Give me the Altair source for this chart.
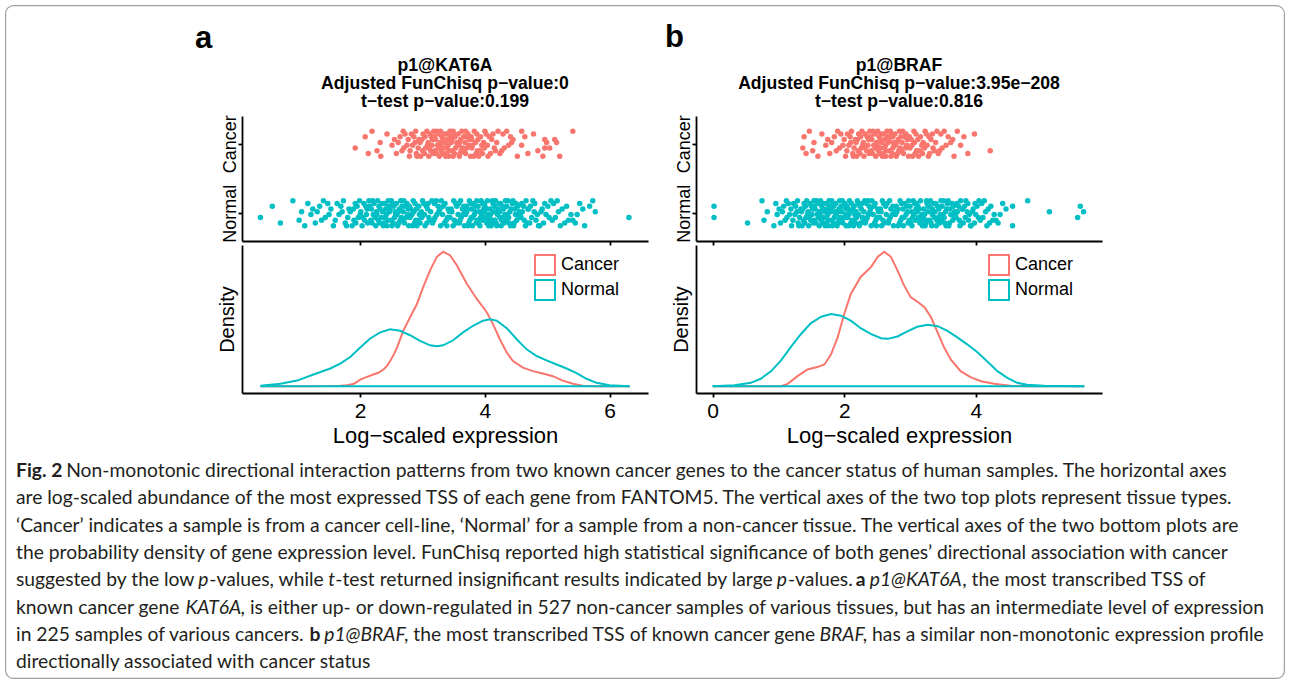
import altair as alt
import pandas as pd

# ------------------------------------------------------------------ data
STATUS = ["Cancer", "Normal"]
STATUS_COLORS = ["#F8766D", "#00BFC4"]

panel_letters = ["a", "b"]
titles_a = ["p1@KAT6A", "Adjusted FunChisq p\u2212value:0", "t\u2212test p\u2212value:0.199"]
titles_b = ["p1@BRAF", "Adjusted FunChisq p\u2212value:3.95e\u2212208", "t\u2212test p\u2212value:0.816"]
x_axis_title = "Log\u2212scaled expression"
density_axis_title = "Density"
x_ticks_a = [2, 4, 6]
x_ticks_b = [0, 2, 4]

# expression values read from the jittered strips (log-scaled)
a_cancer_expr = [
    1.92, 2.08, 2.13, 2.19, 2.27, 2.32, 2.33, 2.43, 2.51, 2.55, 2.58,
    2.61, 2.64, 2.67, 2.69, 2.70, 2.72, 2.75, 2.77, 2.79,
    2.80, 2.82, 2.84, 2.86, 2.88, 2.89, 2.90, 2.91, 2.93, 2.94, 2.96, 2.97, 2.99,
    3.00, 3.01, 3.03, 3.04, 3.05, 3.07, 3.08, 3.09,
    3.10, 3.11, 3.12, 3.13, 3.14, 3.15, 3.16, 3.17, 3.18, 3.19,
    3.20, 3.21, 3.22, 3.23, 3.24, 3.25, 3.26, 3.27, 3.28, 3.29, 3.29,
    3.30, 3.31, 3.32, 3.33, 3.34, 3.35, 3.36, 3.37, 3.38, 3.39, 3.39,
    3.40, 3.41, 3.42, 3.43, 3.44, 3.45, 3.46, 3.47, 3.48, 3.49, 3.49,
    3.50, 3.51, 3.52, 3.53, 3.55, 3.56, 3.57, 3.58, 3.59, 3.59,
    3.60, 3.61, 3.62, 3.63, 3.64, 3.66, 3.67, 3.68, 3.69, 3.69,
    3.70, 3.71, 3.73, 3.74, 3.75, 3.77, 3.78, 3.79, 3.79,
    3.80, 3.82, 3.83, 3.85, 3.86, 3.87, 3.88, 3.89,
    3.90, 3.92, 3.93, 3.95, 3.96, 3.98, 3.99,
    4.00, 4.02, 4.04, 4.05, 4.07, 4.09,
    4.11, 4.13, 4.15, 4.17, 4.19,
    4.21, 4.24, 4.27, 4.29, 4.31, 4.35, 4.38, 4.41, 4.43, 4.45,
    4.52, 4.59, 4.59, 4.64, 4.69, 4.78, 4.85, 4.93, 4.96, 4.96, 4.99,
    5.04, 5.12, 5.15, 5.20, 5.41,
]
a_normal_expr = [
    0.40, 0.59, 0.72, 0.92, 1.02, 1.06, 1.11, 1.16, 1.21, 1.24, 1.28,
    1.31, 1.35, 1.38, 1.41, 1.44, 1.48, 1.50, 1.53, 1.57,
    1.60, 1.63, 1.66, 1.69, 1.71, 1.73, 1.76, 1.78,
    1.80, 1.82, 1.84, 1.87, 1.89, 1.90, 1.92, 1.93, 1.95, 1.97, 1.99,
    2.00, 2.01, 2.03, 2.04, 2.06, 2.07, 2.09,
    2.10, 2.11, 2.12, 2.14, 2.15, 2.17, 2.18, 2.19,
    2.20, 2.21, 2.22, 2.24, 2.25, 2.26, 2.27, 2.28, 2.29,
    2.30, 2.31, 2.32, 2.34, 2.35, 2.36, 2.37, 2.38, 2.39,
    2.40, 2.41, 2.42, 2.43, 2.44, 2.45, 2.46, 2.47, 2.48, 2.49,
    2.50, 2.51, 2.52, 2.53, 2.54, 2.55, 2.56, 2.57, 2.58, 2.59,
    2.60, 2.61, 2.62, 2.63, 2.64, 2.65, 2.66, 2.67, 2.68, 2.69,
    2.70, 2.71, 2.72, 2.74, 2.75, 2.76, 2.77, 2.78, 2.79,
    2.80, 2.81, 2.83, 2.84, 2.85, 2.86, 2.87, 2.88, 2.89,
    2.90, 2.91, 2.93, 2.94, 2.95, 2.96, 2.98, 2.99,
    3.00, 3.02, 3.03, 3.04, 3.06, 3.07, 3.08, 3.09,
    3.10, 3.12, 3.13, 3.15, 3.16, 3.18, 3.19,
    3.20, 3.22, 3.23, 3.25, 3.26, 3.28, 3.29,
    3.30, 3.32, 3.33, 3.35, 3.36, 3.38, 3.39,
    3.40, 3.41, 3.43, 3.44, 3.46, 3.47, 3.49,
    3.50, 3.51, 3.53, 3.54, 3.55, 3.57, 3.58, 3.59,
    3.60, 3.61, 3.62, 3.64, 3.65, 3.66, 3.67, 3.68, 3.69,
    3.70, 3.71, 3.72, 3.73, 3.74, 3.75, 3.76, 3.77, 3.78, 3.79,
    3.80, 3.81, 3.82, 3.83, 3.84, 3.85, 3.86, 3.87, 3.88, 3.89,
    3.90, 3.91, 3.92, 3.93, 3.94, 3.95, 3.96, 3.97, 3.98, 3.99, 3.99,
    4.00, 4.01, 4.02, 4.03, 4.04, 4.05, 4.05, 4.06, 4.07, 4.08, 4.09,
    4.10, 4.11, 4.12, 4.13, 4.13, 4.14, 4.15, 4.16, 4.16, 4.17, 4.18, 4.19,
    4.20, 4.21, 4.22, 4.23, 4.24, 4.24, 4.25, 4.26, 4.27, 4.28, 4.29,
    4.30, 4.31, 4.32, 4.33, 4.34, 4.35, 4.36, 4.37, 4.38, 4.39,
    4.40, 4.41, 4.42, 4.44, 4.45, 4.46, 4.47, 4.48, 4.49,
    4.50, 4.51, 4.53, 4.54, 4.55, 4.57, 4.58, 4.59,
    4.60, 4.62, 4.63, 4.65, 4.66, 4.68, 4.69,
    4.70, 4.72, 4.73, 4.75, 4.77, 4.79,
    4.80, 4.82, 4.84, 4.86, 4.88, 4.90, 4.92, 4.94, 4.96, 4.98,
    5.01, 5.03, 5.06, 5.08, 5.10, 5.13, 5.16, 5.18,
    5.21, 5.24, 5.28, 5.31, 5.34, 5.38, 5.41, 5.45, 5.48,
    5.52, 5.57, 5.60, 5.68, 5.73, 5.77, 6.31,
]
b_cancer_expr = [
    1.37, 1.39, 1.42, 1.47, 1.52, 1.54, 1.60, 1.66, 1.72, 1.75, 1.78,
    1.81, 1.85, 1.88, 1.90, 1.93, 1.95, 1.98,
    2.00, 2.02, 2.04, 2.05, 2.07, 2.09,
    2.10, 2.11, 2.13, 2.14, 2.15, 2.17, 2.18, 2.19,
    2.20, 2.21, 2.22, 2.24, 2.25, 2.26, 2.27, 2.28, 2.29,
    2.30, 2.31, 2.32, 2.34, 2.35, 2.36, 2.37, 2.38, 2.39,
    2.40, 2.41, 2.42, 2.43, 2.44, 2.45, 2.46, 2.47, 2.48, 2.49,
    2.50, 2.51, 2.52, 2.53, 2.54, 2.55, 2.55, 2.56, 2.57, 2.58, 2.59,
    2.60, 2.61, 2.62, 2.63, 2.63, 2.64, 2.65, 2.66, 2.67, 2.68, 2.69,
    2.70, 2.71, 2.72, 2.73, 2.74, 2.74, 2.75, 2.76, 2.77, 2.78, 2.79,
    2.80, 2.81, 2.82, 2.83, 2.84, 2.85, 2.86, 2.87, 2.88, 2.89,
    2.90, 2.91, 2.93, 2.94, 2.95, 2.96, 2.98, 2.99,
    3.00, 3.02, 3.03, 3.04, 3.06, 3.07, 3.08, 3.09,
    3.10, 3.12, 3.13, 3.15, 3.16, 3.18, 3.19,
    3.20, 3.22, 3.23, 3.25, 3.26, 3.28, 3.29,
    3.30, 3.32, 3.34, 3.35, 3.37, 3.39,
    3.41, 3.43, 3.45, 3.47, 3.49, 3.52, 3.55, 3.58,
    3.62, 3.65, 3.67, 3.72, 3.77, 3.82, 3.88, 3.98, 4.22,
]
b_normal_expr = [
    0.02, 0.02, 0.53, 0.75, 0.78, 0.83, 0.93, 0.96, 0.98,
    1.01, 1.03, 1.06, 1.08, 1.10, 1.12, 1.13, 1.15, 1.17, 1.19,
    1.20, 1.22, 1.23, 1.25, 1.26, 1.28, 1.29,
    1.30, 1.31, 1.32, 1.34, 1.35, 1.36, 1.37, 1.38, 1.39,
    1.40, 1.41, 1.42, 1.43, 1.44, 1.45, 1.46, 1.47, 1.48, 1.49,
    1.50, 1.51, 1.52, 1.53, 1.54, 1.54, 1.55, 1.56, 1.57, 1.58, 1.59,
    1.60, 1.61, 1.62, 1.62, 1.63, 1.64, 1.65, 1.66, 1.67, 1.67, 1.68, 1.69,
    1.70, 1.71, 1.72, 1.73, 1.73, 1.74, 1.75, 1.76, 1.76, 1.77, 1.78, 1.79,
    1.80, 1.81, 1.81, 1.82, 1.83, 1.84, 1.84, 1.85, 1.86, 1.87, 1.87, 1.88, 1.89,
    1.90, 1.91, 1.92, 1.92, 1.93, 1.94, 1.95, 1.96, 1.96, 1.97, 1.98, 1.99,
    2.00, 2.01, 2.02, 2.03, 2.03, 2.04, 2.05, 2.06, 2.07, 2.07, 2.08, 2.09,
    2.10, 2.11, 2.12, 2.13, 2.14, 2.15, 2.15, 2.16, 2.17, 2.18, 2.19,
    2.20, 2.21, 2.22, 2.23, 2.24, 2.25, 2.26, 2.27, 2.28, 2.29,
    2.30, 2.31, 2.32, 2.33, 2.34, 2.35, 2.36, 2.37, 2.38, 2.39,
    2.40, 2.41, 2.42, 2.44, 2.45, 2.46, 2.47, 2.48, 2.49,
    2.50, 2.51, 2.52, 2.54, 2.55, 2.56, 2.57, 2.58, 2.59,
    2.60, 2.61, 2.63, 2.64, 2.65, 2.67, 2.68, 2.69,
    2.70, 2.71, 2.73, 2.74, 2.75, 2.77, 2.78, 2.79,
    2.80, 2.81, 2.82, 2.84, 2.85, 2.86, 2.87, 2.88, 2.89,
    2.90, 2.91, 2.92, 2.94, 2.95, 2.96, 2.97, 2.98, 2.99,
    3.00, 3.01, 3.02, 3.03, 3.04, 3.05, 3.06, 3.07, 3.08, 3.09,
    3.10, 3.11, 3.12, 3.13, 3.14, 3.15, 3.16, 3.17, 3.18, 3.19,
    3.20, 3.21, 3.22, 3.23, 3.24, 3.25, 3.25, 3.26, 3.27, 3.28, 3.29,
    3.30, 3.31, 3.32, 3.33, 3.34, 3.34, 3.35, 3.36, 3.37, 3.38, 3.39,
    3.40, 3.41, 3.42, 3.43, 3.44, 3.45, 3.46, 3.47, 3.48, 3.49,
    3.50, 3.51, 3.52, 3.53, 3.54, 3.55, 3.56, 3.57, 3.58, 3.59,
    3.60, 3.61, 3.62, 3.64, 3.65, 3.66, 3.67, 3.68, 3.69,
    3.70, 3.71, 3.72, 3.74, 3.75, 3.76, 3.77, 3.78, 3.79,
    3.80, 3.81, 3.83, 3.84, 3.85, 3.87, 3.88, 3.89,
    3.90, 3.92, 3.93, 3.95, 3.96, 3.98, 3.99,
    4.00, 4.02, 4.04, 4.05, 4.07, 4.09,
    4.11, 4.13, 4.15, 4.17, 4.19, 4.21, 4.23, 4.26, 4.28,
    4.31, 4.34, 4.37, 4.41, 4.46, 4.56, 4.56, 4.79, 5.12, 5.55, 5.59, 5.64,
]
# vertical jitter of the strip points, one digit per sample (0 = bottom, 9 = top)
jitter_digits = (
    "3719250846157293846028475910365062817394503827461972619483054927163850"
    "1836402975629081735484051629372591738460736409518260274153984071683259"
    "1283947560947182036536509281748129364705475601928360384751927150394826"
    "8573619240364019285772910465835802736149274931506890164827354385720916"
    "6173958240056184739283950617242148607953750239481639617502846824195037"
    "1057382649473950618292608154375916274083048263719537192508461572938460"
)

# density curves
a_dens_cancer_x = [0.40, 1.20, 1.50, 1.68, 1.79, 1.90, 2.00, 2.10, 2.21, 2.30, 2.37, 2.43, 2.48, 2.54,
                   2.59, 2.69, 2.80, 2.91, 3.01, 3.12, 3.23, 3.33, 3.44, 3.55, 3.71, 3.87, 4.03, 4.13,
                   4.24, 4.35, 4.45, 4.61, 4.77, 4.93, 5.09, 5.25, 5.41, 5.57, 5.79, 6.32]
a_dens_cancer_y = [0.000, 0.000, 0.001, 0.003, 0.005, 0.012, 0.033, 0.045, 0.058, 0.068, 0.083, 0.100,
                   0.125, 0.158, 0.192, 0.275, 0.342, 0.408, 0.492, 0.575, 0.642, 0.667, 0.650, 0.600,
                   0.508, 0.433, 0.367, 0.308, 0.233, 0.167, 0.125, 0.092, 0.075, 0.063, 0.050, 0.028,
                   0.012, 0.003, 0.000, 0.000]
a_dens_normal_x = [0.40, 0.72, 0.99, 1.25, 1.52, 1.68, 1.84, 2.00, 2.16, 2.32, 2.48, 2.64, 2.80, 2.96,
                   3.12, 3.23, 3.33, 3.49, 3.65, 3.81, 3.97, 4.08, 4.19, 4.35, 4.51, 4.67, 4.83, 4.99,
                   5.15, 5.31, 5.47, 5.63, 5.79, 6.00, 6.32]
a_dens_normal_y = [0.003, 0.012, 0.028, 0.058, 0.088, 0.112, 0.145, 0.192, 0.237, 0.267, 0.282, 0.275,
                   0.253, 0.225, 0.203, 0.198, 0.203, 0.228, 0.267, 0.300, 0.325, 0.332, 0.325, 0.288,
                   0.233, 0.183, 0.150, 0.128, 0.108, 0.088, 0.065, 0.037, 0.017, 0.005, 0.000]
b_dens_cancer_x = [0.00, 1.04, 1.14, 1.29, 1.44, 1.59, 1.70, 1.80, 1.90, 2.00, 2.10, 2.25, 2.41, 2.51,
                   2.61, 2.71, 2.81, 2.91, 3.01, 3.11, 3.22, 3.32, 3.42, 3.52, 3.62, 3.77, 3.92, 4.08,
                   4.28, 4.53, 4.78, 5.65]
b_dens_cancer_y = [0.000, 0.000, 0.012, 0.050, 0.083, 0.095, 0.108, 0.158, 0.242, 0.358, 0.458, 0.542,
                   0.592, 0.642, 0.667, 0.642, 0.575, 0.500, 0.442, 0.420, 0.392, 0.342, 0.267, 0.192,
                   0.133, 0.075, 0.045, 0.025, 0.012, 0.003, 0.000, 0.000]
b_dens_normal_x = [0.00, 0.33, 0.58, 0.73, 0.89, 1.04, 1.19, 1.34, 1.49, 1.65, 1.80, 1.95, 2.10, 2.25,
                   2.41, 2.56, 2.66, 2.81, 2.96, 3.11, 3.27, 3.42, 3.57, 3.72, 3.87, 4.03, 4.18, 4.33,
                   4.48, 4.63, 4.78, 5.04, 5.65]
b_dens_normal_y = [0.000, 0.005, 0.017, 0.037, 0.075, 0.128, 0.195, 0.258, 0.312, 0.345, 0.358, 0.350,
                   0.325, 0.288, 0.258, 0.238, 0.235, 0.247, 0.272, 0.295, 0.305, 0.298, 0.275, 0.242,
                   0.208, 0.167, 0.122, 0.075, 0.042, 0.017, 0.007, 0.002, 0.000]

# figure caption: (text, style) with n = regular, b = bold, i = italic
caption_lines = [
    [("Fig. 2", "b"), ("Non-monotonic directional interaction patterns from two known cancer genes to the cancer status of human samples. The horizontal axes", "n")],
    [("are log-scaled abundance of the most expressed TSS of each gene from FANTOM5. The vertical axes of the two top plots represent tissue types.", "n")],
    [("\u2018Cancer\u2019 indicates a sample is from a cancer cell-line, \u2018Normal\u2019 for a sample from a non-cancer tissue. The vertical axes of the two bottom plots are", "n")],
    [("the probability density of gene expression level. FunChisq reported high statistical significance of both genes\u2019 directional association with cancer", "n")],
    [("suggested by the low", "n"), ("p", "i"), ("-values, while", "n"), ("t", "i"),
     ("-test returned insignificant results indicated by large", "n"), ("p", "i"), ("-values.", "n"),
     ("a", "b"), ("p1@KAT6A", "i"), (", the most transcribed TSS of", "n")],
    [("known cancer gene", "n"), ("KAT6A", "i"),
     (", is either up- or down-regulated in 527 non-cancer samples of various tissues, but has an intermediate level of expression", "n")],
    [("in 225 samples of various cancers.", "n"), ("b", "b"), ("p1@BRAF", "i"),
     (", the most transcribed TSS of known cancer gene", "n"), ("BRAF", "i"),
     (", has a similar non-monotonic expression profile", "n")],
    [("directionally associated with cancer status", "n")],
]

# ------------------------------------------------------------------ layout constants
FONT = "Liberation Sans"
CAP_FONT = "Lato"
CAP_SIZE = 19.3
PLOT_W, STRIP_H, DENS_H, GAP = 406, 125, 148, 4
ORIGIN_X, ORIGIN_Y = 242.0, 116.0               # absolute corner of panel a strip
CAP_Y0 = ORIGIN_Y + STRIP_H + GAP + DENS_H + GAP  # absolute top of caption cell

# segment start positions (absolute pixels) for every caption line
caption_x = [
    [16, 66.2],
    [16],
    [16],
    [16],
    [16, 198.2, 209.3, 328.2, 335.3, 776.8, 787.9, 855.7, 869.7, 962.3],
    [16, 185.4, 240.6],
    [16, 309.4, 324.2, 404.0, 819.5, 862.8],
    [16],
]
caption_y = [471 + 27.3 * i for i in range(8)]
letter_pos = [(195, 48), (665, 47)]  # absolute (left, baseline) of the panel letters

color_scale = alt.Scale(domain=STATUS, range=STATUS_COLORS)


def strip_chart(cancer, normal, xdom, xticks, title_lines):
    rows = []
    for status, base, vals in (("Cancer", 2, cancer), ("Normal", 1, normal)):
        for v, d in zip(vals, jitter_digits):
            rows.append({"expr": v, "status": status,
                         "ypos": base + (int(d) - 4.5) / 4.5 * 0.18})
    df = pd.DataFrame(rows)
    pts = alt.Chart(df).mark_circle(size=30, opacity=1).encode(
        x=alt.X("expr:Q", scale=alt.Scale(domain=xdom, nice=False, zero=False),
                axis=alt.Axis(values=xticks, labels=False, title=None, tickSize=4, grid=False)),
        y=alt.Y("ypos:Q", scale=alt.Scale(domain=[0.6, 2.4], nice=False, zero=False),
                axis=alt.Axis(values=[1, 2], labelExpr="datum.value == 2 ? 'Cancer' : 'Normal'",
                              labelAngle=270, labelAlign="center", labelBaseline="alphabetic",
                              labelPadding=3, tickSize=4, title=None, grid=False, labelFontSize=18)),
        color=alt.Color("status:N", scale=color_scale, legend=None),
    )
    return pts.properties(
        width=PLOT_W, height=STRIP_H,
        title=alt.TitleParams(title_lines, anchor="middle", frame="group", fontSize=17.6,
                              fontWeight="bold", font=FONT, lineHeight=18, offset=4, color="black"),
    )


def density_chart(cx, cy, nx, ny, xdom, xticks):
    df = pd.concat([
        pd.DataFrame({"x": cx, "density": cy, "status": "Cancer"}),
        pd.DataFrame({"x": nx, "density": ny, "status": "Normal"}),
    ])
    base = alt.Chart(df)
    xs = alt.Scale(domain=xdom, nice=False, zero=False)
    ys = alt.Scale(domain=[-0.0335, 0.7005], nice=False, zero=False)
    lines = base.mark_line(strokeWidth=2).encode(
        x=alt.X("x:Q", scale=xs,
                axis=alt.Axis(values=xticks, title=x_axis_title, format="d", labelFontSize=21,
                              titleFontSize=22, tickSize=4, labelPadding=3, titlePadding=4, grid=False)),
        y=alt.Y("density:Q", scale=ys,
                axis=alt.Axis(title=density_axis_title, labels=False, ticks=False, grid=False,
                              titleFontSize=20, titlePadding=5)),
        color=alt.Color("status:N", scale=color_scale,
                        legend=alt.Legend(orient="none", legendX=292, legendY=9, title=None,
                                          symbolType="square", symbolSize=400, symbolStrokeWidth=2,
                                          symbolFillColor="white", labelFontSize=18, labelFont=FONT,
                                          labelColor="black", rowPadding=-4, labelOffset=5, padding=0)),
        detail="status:N",
    )
    baseline = base.transform_filter("datum.status == 'Normal'").mark_rule(strokeWidth=2).encode(
        x=alt.X("min(x):Q", scale=xs), x2="max(x):Q", y=alt.datum(0),
        color=alt.Color("status:N", scale=color_scale),
    )
    return alt.layer(lines, baseline).properties(width=PLOT_W, height=DENS_H)


strip_a = strip_chart(a_cancer_expr, a_normal_expr, [0.104, 6.616], x_ticks_a, titles_a)
strip_b = strip_chart(b_cancer_expr, b_normal_expr, [-0.254, 5.92], x_ticks_b, titles_b)
dens_a = density_chart(a_dens_cancer_x, a_dens_cancer_y, a_dens_normal_x, a_dens_normal_y,
                       [0.104, 6.616], x_ticks_a)
dens_b = density_chart(b_dens_cancer_x, b_dens_cancer_y, b_dens_normal_x, b_dens_normal_y,
                       [-0.254, 5.92], x_ticks_b)

# caption cell: figure frame, panel letters and caption text
one = pd.DataFrame({"k": [0]})
frame = alt.Chart(one).mark_rect(fillOpacity=0, stroke="#a0a0a0", strokeWidth=1.2, cornerRadius=8).encode(
    x=alt.value(5.6 - ORIGIN_X), x2=alt.value(1284.4 - ORIGIN_X),
    y=alt.value(5.6 - CAP_Y0), y2=alt.value(678.4 - CAP_Y0),
)
cap_layers = [frame]
for letter, (lx, ly) in zip(panel_letters, letter_pos):
    cap_layers.append(
        alt.Chart(pd.DataFrame({"t": [letter]})).mark_text(
            fontSize=31, fontWeight="bold", font=FONT, align="left", baseline="alphabetic",
            color="black",
        ).encode(text="t:N", x=alt.value(lx - ORIGIN_X), y=alt.value(ly - CAP_Y0))
    )
for segs, xs, yy in zip(caption_lines, caption_x, caption_y):
    for (txt, style), xx in zip(segs, xs):
        cap_layers.append(
            alt.Chart(pd.DataFrame({"t": [txt]})).mark_text(
                font=CAP_FONT, fontSize=CAP_SIZE, align="left", baseline="middle", color="#231f20",
                fontWeight="bold" if style == "b" else "normal",
                fontStyle="italic" if style == "i" else "normal",
            ).encode(text="t:N", x=alt.value(xx - ORIGIN_X), y=alt.value(yy - CAP_Y0))
        )
caption = alt.layer(*cap_layers).properties(width=PLOT_W, height=240)

chart = (
    alt.concat(strip_a, strip_b, dens_a, dens_b, caption, columns=2,
               spacing={"row": GAP, "column": 48}, bounds="flush")
    .resolve_legend(color="independent")
    .properties(padding={"left": 5, "top": 5, "right": 5, "bottom": 5}, background="white")
    .configure_view(stroke=None)
    .configure_axis(domainColor="black", domainWidth=1.8, tickColor="black", tickWidth=1.8,
                    labelColor="black", titleColor="black", labelFont=FONT, titleFont=FONT,
                    titleFontWeight="normal")
)

chart.save("out.html", embed_options={"renderer": "svg", "actions": False})
